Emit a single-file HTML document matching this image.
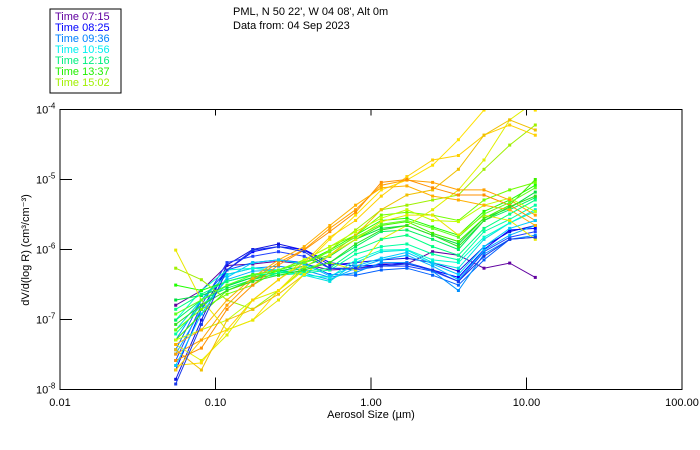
<!DOCTYPE html>
<html><head><meta charset="utf-8"><style>
body{margin:0;background:#fff;}
svg{display:block;font-family:"Liberation Sans",sans-serif;}
</style></head><body>
<svg id="chart" width="700" height="450">
<rect x="50" y="9" width="71" height="84" fill="#fff" stroke="#000"/>
<g font-size="11">
<text x="55" y="20" fill="#6000a0">Time 07:15</text>
<text x="55" y="31" fill="#0000ff">Time 08:25</text>
<text x="55" y="42" fill="#0080ff">Time 09:36</text>
<text x="55" y="53" fill="#00f0f0">Time 10:56</text>
<text x="55" y="64" fill="#00f080">Time 12:16</text>
<text x="55" y="75" fill="#20f000">Time 13:37</text>
<text x="55" y="86" fill="#a0f000">Time 15:02</text>
</g>
<text x="233" y="15" font-size="11">PML, N 50 22', W 04 08', Alt 0m</text>
<text x="233" y="29" font-size="11">Data from: 04 Sep 2023</text>
<g id="plot"></g>
<rect x="60" y="109.5" width="622" height="280" fill="none" stroke="#000"/>
<g id="axes"></g>
<text x="371" y="418" font-size="11" text-anchor="middle">Aerosol Size (µm)</text>
<text transform="translate(29,250) rotate(-90)" font-size="11" text-anchor="middle">dV/d(log R) (cm³/cm⁻³)</text>
</svg>
<script>
const sizes = [0.0555,0.0811,0.1186,0.1738,0.254,0.372,0.543,0.796,1.164,1.702,2.489,3.648,5.33,7.80,11.40];
const xTicks = [0.01,0.1,1,10,100];
const xTickLabels = ["0.01","0.10","1.00","10.00","100.00"];
const yTickExps = [-4,-5,-6,-7,-8];
const seriesColors = ["#6000a0","#1010e0","#0000ff","#2040ff","#0060ff","#0090ff","#00b0ff","#00e0e0","#00ffd0","#00ffa0","#00f060","#00e040","#20ff00","#40f000","#70ff00","#a0f000","#c0ff00","#e0f000","#ffe000","#ffd000","#f0c000","#ffa000","#ff9000","#ffb000","#e8e800","#00c8ff","#00ff80","#30e020","#1838e8","#60ff20"];
// values in units of 1e-6 cm3/cm3
const s0=[0.16,0.26,0.59,0.62,0.68,0.62,0.51,0.53,0.62,0.62,0.93,0.83,0.54,0.64,0.40];
const s1=[0.014,0.098,0.60,1.0,1.2,0.98,0.60,0.65,0.71,0.75,0.65,0.49,1.1,1.8,2.2];
const s2=[0.019,0.14,0.51,0.93,1.1,1.0,0.65,0.58,0.6,0.65,0.51,0.40,1.0,1.9,2.0];
const s3=[0.026,0.16,0.65,0.80,0.93,0.80,0.54,0.51,0.58,0.58,0.49,0.35,0.93,1.5,1.8];
const s4=[0.037,0.19,0.51,0.65,0.71,0.65,0.44,0.43,0.51,0.54,0.43,0.31,0.71,1.4,1.5];
const s5=[0.051,0.19,0.44,0.54,0.58,0.51,0.40,0.47,0.65,0.65,0.49,0.26,0.86,1.4,1.6];
const s6=[0.032,0.14,0.37,0.49,0.51,0.46,0.37,0.54,0.71,0.83,0.58,0.37,0.98,1.6,2.2];
const s7=[0.071,0.19,0.44,0.54,0.51,0.43,0.35,0.65,0.93,0.98,0.65,0.54,1.4,2.4,3.7];
const s8=[0.098,0.26,0.51,0.54,0.49,0.43,0.40,0.71,0.98,1.0,0.71,0.65,1.5,2.4,3.5];
const s9=[0.062,0.16,0.31,0.40,0.43,0.46,0.51,0.86,1.1,1.2,0.86,0.71,1.8,2.7,4.3];
const s10=[0.098,0.19,0.28,0.37,0.46,0.54,0.65,1.1,1.8,1.9,1.4,1.0,2.6,3.7,5.5];
const s11=[0.19,0.22,0.30,0.40,0.49,0.58,0.80,1.4,2.0,2.2,1.6,1.2,2.8,3.9,6.6];
const s12=[0.31,0.26,0.35,0.44,0.51,0.65,0.98,1.6,2.6,2.8,2.1,1.6,3.5,5.1,8.3];
const s13=[0.051,0.12,0.26,0.37,0.51,0.65,0.83,1.4,2.2,2.5,1.7,1.3,2.8,4.3,10];
const s14=[0.071,0.14,0.23,0.31,0.51,0.71,1.1,1.6,3.1,3.4,3.1,2.6,5.1,7.1,9.1];
const s15=[0.54,0.37,0.19,0.14,0.26,0.54,0.98,1.9,3.7,4.3,5.1,6.0,14,31,60];
const s16=[0.051,0.071,0.098,0.19,0.37,0.71,1.1,1.8,2.8,3.7,2.6,2.5,4.3,5.4,3.5];
const s17=[0.044,0.026,0.06,0.19,0.26,0.51,0.65,0.51,1.4,2.2,3.7,7.1,19,71,130];
const s18=[0.022,0.024,0.071,0.098,0.26,0.60,1.4,3.1,7.1,9.8,16,37,98,130,98];
const s19=[0.019,0.051,0.071,0.19,0.37,0.65,1.5,2.6,5.8,11,19,22,43,60,43];
const s20=[0.037,0.019,0.098,0.14,0.23,0.44,0.83,1.6,3.7,6.0,7.1,14,43,71,51];
const s21=[0.032,0.051,0.16,0.37,0.65,1.0,2.0,3.7,8.3,9.8,9.1,7.1,7.1,5.1,3.1];
const s22=[0.026,0.039,0.14,0.31,0.60,0.98,1.8,3.4,9.1,10,7.6,6.0,6.0,4.3,2.6];
const s23=[0.044,0.071,0.19,0.40,0.71,1.1,2.2,4.3,7.6,8.1,5.8,5.1,4.3,3.7,2.2];
const s24=[0.98,0.19,0.071,0.098,0.19,0.44,0.83,1.4,2.5,3.1,3.1,1.6,3.1,2.6,1.4];
const s25=[0.022,0.12,0.40,0.65,0.71,0.62,0.42,0.58,0.75,0.91,0.62,0.44,1.1,2.0,2.6];
const s26=[0.14,0.23,0.35,0.43,0.46,0.49,0.54,0.98,1.4,1.6,1.1,0.83,2.0,3.2,5.1];
const s27=[0.085,0.16,0.26,0.35,0.43,0.51,0.65,1.2,1.9,2.2,1.6,1.1,2.6,4.1,5.8];
const s28=[0.012,0.085,0.51,0.98,1.1,0.93,0.54,0.54,0.58,0.62,0.51,0.35,0.80,1.4,1.5];
const s29=[0.12,0.19,0.31,0.43,0.51,0.65,0.93,1.5,2.3,2.6,2.0,1.5,3.2,4.7,7.6];
const seriesValues=[s0,s1,s2,s3,s4,s5,s6,s7,s8,s9,s10,s11,s12,s13,s14,s15,s16,s17,s18,s19,s20,s21,s22,s23,s24,s25,s26,s27,s28,s29];

const NS="http://www.w3.org/2000/svg";
const X0=60,X1=682,Y0=109.5,Y1=389.5;
function xs(v){return X0+(Math.log10(v)+2)/4*(X1-X0);}
function ys(v){return Y0+(2-Math.log10(v))/4*(Y1-Y0);} // v in 1e-6 units
function mk(tag,attrs,parent){const e=document.createElementNS(NS,tag);for(const k in attrs)e.setAttribute(k,attrs[k]);parent.appendChild(e);return e;}
const svg=document.getElementById('chart');
const defs=mk('defs',{},svg);
const cp=mk('clipPath',{id:'clip'},defs);
mk('rect',{x:X0,y:Y0,width:X1-X0,height:Y1-Y0},cp);
const plot=document.getElementById('plot');
plot.setAttribute('clip-path','url(#clip)');
seriesValues.forEach((vals,i)=>{
  const g=mk('g',{},plot);
  
  
  const pts=vals.map((v,j)=>xs(sizes[j]).toFixed(1)+','+ys(v).toFixed(1)).join(' ');
  const pl=mk('polyline',{points:pts,fill:'none',stroke:seriesColors[i],'stroke-width':1},g);
  
  
  vals.forEach((v,j)=>{
    const r=mk('rect',{x:(xs(sizes[j])-1.5).toFixed(1),y:(ys(v)-1.5).toFixed(1),width:3,height:3,fill:seriesColors[i]},g);
    
    
  });
});
const axes=document.getElementById('axes');
xTicks.forEach((t,i)=>{
  const x=xs(t);
  if(i>0&&i<xTicks.length-1){
    const a=mk('line',{x1:x,x2:x,y1:Y1,y2:Y1-12,stroke:'#000'},axes);
    
    
    const b=mk('line',{x1:x,x2:x,y1:Y0,y2:Y0+6,stroke:'#000'},axes);
    
    
  }
  const tx=mk('text',{x:x,y:406,'font-size':11,'text-anchor':'middle'},axes);
  tx.textContent=xTickLabels[i];
  
  
});
yTickExps.forEach((e,i)=>{
  const y=ys(Math.pow(10,e+6));
  if(i>0&&i<yTickExps.length-1){
    const a=mk('line',{x1:X0,x2:X0+12,y1:y,y2:y,stroke:'#000'},axes);
    
    
  }
  const tx=mk('text',{x:36,y:y+4,'font-size':11},axes);
  
  
  tx.appendChild(document.createTextNode('10'));
  const sp=mk('tspan',{dy:-5,'font-size':8},tx);
  sp.textContent=String(e);
});
</script>
</body></html>
